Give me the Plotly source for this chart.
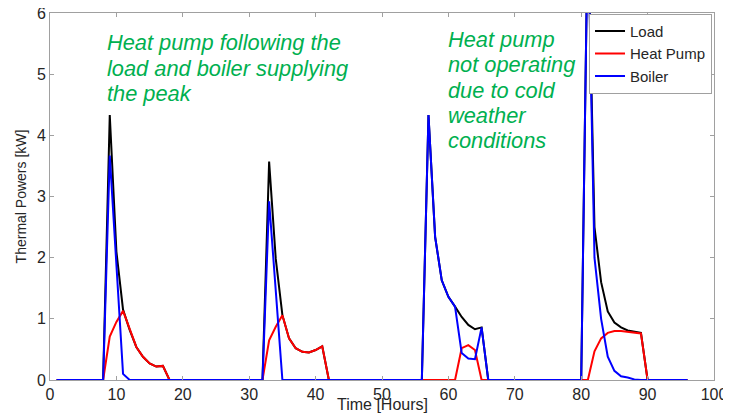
import plotly.graph_objects as go

hours = list(range(1, 97))

# Thermal powers [kW], one row per day (24 h)
load = (
    [0, 0, 0, 0, 0, 0, 0, 0, 4.33, 2.10, 1.15, 0.82, 0.54, 0.38, 0.27, 0.22, 0.23, 0, 0, 0, 0, 0, 0, 0]
    + [0, 0, 0, 0, 0, 0, 0, 0, 3.57, 1.98, 1.06, 0.68, 0.52, 0.46, 0.45, 0.49, 0.55, 0, 0, 0, 0, 0, 0, 0]
    + [0, 0, 0, 0, 0, 0, 0, 0, 4.33, 2.34, 1.63, 1.36, 1.20, 1.03, 0.90, 0.83, 0.86, 0, 0, 0, 0, 0, 0, 0]
    + [0, 0, 0, 0, 0, 0, 0, 0, 7.50, 2.50, 1.60, 1.12, 0.94, 0.86, 0.81, 0.79, 0.77, 0, 0, 0, 0, 0, 0, 0]
)
heat_pump = (
    [0, 0, 0, 0, 0, 0, 0, 0, 0.71, 0.95, 1.13, 0.82, 0.54, 0.38, 0.27, 0.22, 0.23, 0, 0, 0, 0, 0, 0, 0]
    + [0, 0, 0, 0, 0, 0, 0, 0, 0.65, 0.87, 1.06, 0.68, 0.52, 0.46, 0.45, 0.49, 0.55, 0, 0, 0, 0, 0, 0, 0]
    + [0, 0, 0, 0, 0, 0, 0, 0, 0, 0, 0, 0, 0, 0.52, 0.57, 0.49, 0, 0, 0, 0, 0, 0, 0, 0]
    + [0, 0, 0, 0, 0, 0, 0, 0, 0, 0.47, 0.68, 0.77, 0.80, 0.80, 0.79, 0.78, 0.76, 0, 0, 0, 0, 0, 0, 0]
)
boiler = (
    [0, 0, 0, 0, 0, 0, 0, 0, 3.67, 1.85, 0.10, 0, 0, 0, 0, 0, 0, 0, 0, 0, 0, 0, 0, 0]
    + [0, 0, 0, 0, 0, 0, 0, 0, 2.92, 1.45, 0, 0, 0, 0, 0, 0, 0, 0, 0, 0, 0, 0, 0, 0]
    + [0, 0, 0, 0, 0, 0, 0, 0, 4.33, 2.34, 1.63, 1.36, 1.20, 0.44, 0.35, 0.34, 0.86, 0, 0, 0, 0, 0, 0, 0]
    + [0, 0, 0, 0, 0, 0, 0, 0, 7.50, 2.00, 1.00, 0.38, 0.15, 0.06, 0.04, 0.01, 0, 0, 0, 0, 0, 0, 0, 0]
)
series = [("Load", load, "#000000"), ("Heat Pump", heat_pump, "#ff0000"), ("Boiler", boiler, "#0000ff")]

x_ticks = [0, 10, 20, 30, 40, 50, 60, 70, 80, 90, 100]
y_ticks = [0, 1, 2, 3, 4, 5, 6]

x_title = "Time [Hours]"
y_title = "Thermal Powers [kW]"
note1_lines = ["Heat pump following the", "load and boiler supplying", "the peak"]
note2_lines = ["Heat pump", "not operating", "due to cold", "weather", "conditions"]

FONT = "Arial, Liberation Sans, sans-serif"
DARK = "#262626"
GREEN = "#00b050"

fig = go.Figure()
for name, vals, col in series:
    fig.add_trace(go.Scatter(x=hours, y=vals, mode="lines", name=name,
                             line=dict(color=col, width=2)))

axis_common = dict(showline=True, mirror="ticks", linecolor="#a0a0a0", linewidth=1,
                   ticks="inside", ticklen=4, tickcolor="#a0a0a0", showgrid=False,
                   zeroline=False, automargin=False, ticklabeloverflow="allow",
                   tickfont=dict(family=FONT, size=16, color=DARK))
fig.update_xaxes(range=[0, 100], tickvals=x_ticks, ticktext=[str(v) for v in x_ticks],
                 **axis_common)
fig.update_yaxes(range=[0, 6], tickvals=y_ticks, ticktext=[str(v) for v in y_ticks],
                 title=dict(text=y_title, font=dict(family=FONT, size=14, color=DARK), standoff=6),
                 **axis_common)

# x-axis title placed just below the tick labels
fig.add_annotation(x=0.5, y=-0.068, xref="paper", yref="paper", text=x_title, showarrow=False,
                   xanchor="center", yanchor="middle",
                   font=dict(family=FONT, size=16, color=DARK))

for i, line in enumerate(note1_lines):
    fig.add_annotation(x=8.3, y=5.51 - 0.41 * i, xref="x", yref="y", text="<i>" + line + "</i>",
                       showarrow=False, xanchor="left", yanchor="middle", align="left",
                       font=dict(family=FONT, size=21.8, color=GREEN))
for i, line in enumerate(note2_lines):
    fig.add_annotation(x=59.6, y=5.56 - 0.41 * i, xref="x", yref="y", text="<i>" + line + "</i>",
                       showarrow=False, xanchor="left", yanchor="middle", align="left",
                       font=dict(family=FONT, size=21.8, color=GREEN))

# page body has an 8 px margin: margins below are compensated so the plot
# area lands at x 50..714, y 13..380 of the 731x414 window
fig.update_layout(
    width=731, height=414,
    margin=dict(l=42, r=25, t=5, b=42),
    plot_bgcolor="white", paper_bgcolor="white",
    legend=dict(x=0.997, y=0.998, xanchor="right", yanchor="top", bgcolor="white",
                bordercolor="#a0a0a0", borderwidth=1,
                font=dict(family=FONT, size=15, color=DARK),
                tracegroupgap=0, itemwidth=30),
)
fig.write_html("out.html")
